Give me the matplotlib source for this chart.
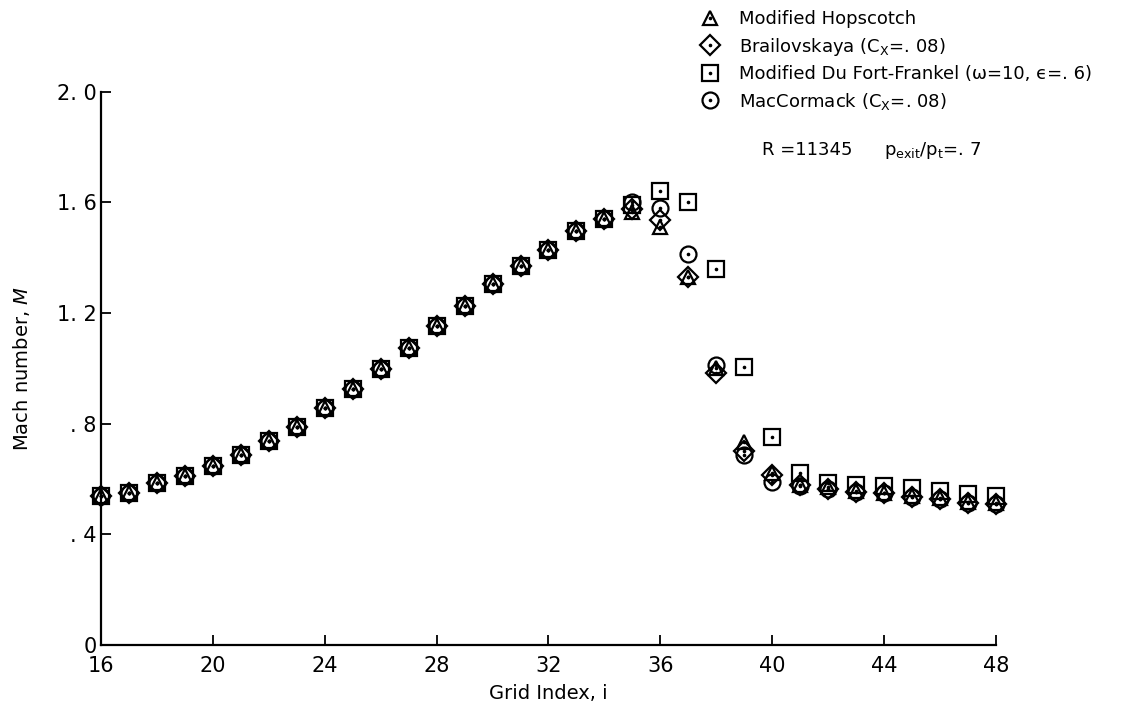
import matplotlib
matplotlib.use('Agg')
import matplotlib.pyplot as plt
from matplotlib import font_manager
import numpy as np

# grid index
grid_i = list(range(16, 49))

# common part (i = 16..34), all four schemes lie on top of each other
common = [0.538, 0.550, 0.584, 0.610, 0.646, 0.688, 0.736, 0.788, 0.857, 0.926,
          0.997, 1.075, 1.151, 1.225, 1.303, 1.369, 1.427, 1.497, 1.538]

hopscotch = common + [1.565, 1.510, 1.330, 1.000, 0.735, 0.620, 0.580, 0.570,
                      0.555, 0.550, 0.537, 0.530, 0.515, 0.512]
brailovskaya = common + [1.575, 1.535, 1.330, 0.984, 0.700, 0.616, 0.578, 0.565,
                         0.552, 0.548, 0.535, 0.527, 0.512, 0.508]
dufort = common + [1.590, 1.640, 1.600, 1.360, 1.005, 0.750, 0.620, 0.585,
                   0.578, 0.573, 0.566, 0.555, 0.544, 0.537]
maccormack = common + [1.600, 1.580, 1.413, 1.013, 0.685, 0.590, 0.575, 0.565,
                       0.552, 0.548, 0.535, 0.527, 0.512, 0.508]

series_labels = [
    'Modified Hopscotch',
    'Brailovskaya (C$_{\\mathregular{X}}$=. 08)',
    'Modified Du Fort-Frankel (ω=10, ϵ=. 6)',
    'MacCormack (C$_{\\mathregular{X}}$=. 08)',
]

x_ticks = [16, 20, 24, 28, 32, 36, 40, 44, 48]
y_ticks = [0, 0.4, 0.8, 1.2, 1.6, 2.0]
y_tick_labels = ['0', '. 4', '. 8', '1. 2', '1. 6', '2. 0']


def pick_family():
    names = {f.name for f in font_manager.fontManager.ttflist}
    for cand in ['Liberation Sans Narrow', 'DejaVu Sans']:
        if cand in names:
            return cand
    return 'DejaVu Sans'


fam = pick_family()
plt.rcParams['font.family'] = [fam, 'DejaVu Sans']
plt.rcParams['mathtext.fontset'] = 'dejavusans'

fig = plt.figure(figsize=(11.31, 7.11), dpi=100)
ax = fig.add_axes([0.0893, 0.0928, 0.7913, 0.7785])

styles = [
    ('^', 10.5, hopscotch),
    ('D', 10.0, brailovskaya),
    ('s', 11.0, dufort),
    ('o', 11.5, maccormack),
]

handles = []
for (marker, ms, vals), label in zip(styles, series_labels):
    ln, = ax.plot(grid_i, vals, linestyle='none', marker=marker, markersize=ms,
                  markerfacecolor='none', markeredgecolor='black',
                  markeredgewidth=1.6, clip_on=False, zorder=3)
    dot, = ax.plot(grid_i, vals, linestyle='none', marker='o', markersize=1.6,
                   color='black', clip_on=False, zorder=4)
    handles.append((ln, dot))

ax.set_xlim(16, 48)
ax.set_ylim(0, 2.0)
ax.spines['top'].set_visible(False)
ax.spines['right'].set_visible(False)
ax.spines['left'].set_linewidth(1.6)
ax.spines['bottom'].set_linewidth(1.6)

ax.set_xticks(x_ticks)
ax.set_yticks(y_ticks)
ax.set_yticklabels(y_tick_labels)
ax.tick_params(direction='in', length=7, width=1.3, labelsize=15)
ax.tick_params(axis='y', pad=3)
ax.tick_params(axis='x', pad=8)

ax.set_xlabel('Grid Index, i', fontsize=14, labelpad=6)
ax.set_ylabel('Mach number, $\\mathit{M}$', fontsize=14, labelpad=18)

leg = fig.legend(handles, series_labels, loc='upper left',
                 bbox_to_anchor=(0.612, 0.996), frameon=False, fontsize=13,
                 handlelength=1.2, handletextpad=1.0, labelspacing=0.42,
                 borderaxespad=0)

fig.text(0.674, 0.782, 'R =11345', fontsize=13)
fig.text(0.782, 0.782, 'p$_{\\mathregular{exit}}$/p$_{\\mathregular{t}}$=. 7', fontsize=13)

fig.savefig('out.png', dpi=100)
